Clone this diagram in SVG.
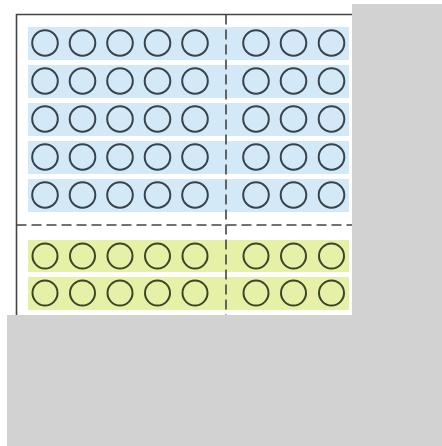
<svg xmlns="http://www.w3.org/2000/svg" width="442" height="446" viewBox="0 0 442 446">
<style>
.bb{fill:#d3e9f7}
.gb{fill:#e6f0a6}
.bc{fill:none;stroke:#38434b;stroke-width:2}
.gc{fill:none;stroke:#3b4629;stroke-width:2}
.frame{stroke:#444;stroke-width:1.6;fill:none}
.dash{stroke:#444;stroke-width:1.6;fill:none;stroke-dasharray:10 5}
</style>
<rect width="442" height="446" fill="#fff"/>
<rect x="352" y="4" width="90" height="442" fill="#d2d2d2"/>
<rect x="7" y="315" width="435" height="131" fill="#d2d2d2"/>
<g id="blue-rows">
<rect class="bb" x="28" y="27" width="321" height="33"/>
<rect class="bb" x="28" y="65" width="321" height="33"/>
<rect class="bb" x="28" y="103" width="321" height="33"/>
<rect class="bb" x="28" y="141" width="321" height="33"/>
<rect class="bb" x="28" y="179" width="321" height="33"/>
</g>
<g id="green-rows">
<rect class="gb" x="28" y="240" width="321" height="32"/>
<rect class="gb" x="28" y="277" width="321" height="33"/>
</g>
<g id="lines">
<path class="frame" d="M16.5 315V14.5H352"/>
<path class="dash" d="M226 14.5V315"/>
<path class="dash" d="M16.5 225H352"/>
</g>
<g id="blue-circles" class="bc">
<g id="b-r1"><circle cx="45" cy="43" r="12.8"/><circle cx="82.5" cy="43" r="12.8"/><circle cx="120" cy="43" r="12.8"/><circle cx="157.5" cy="43" r="12.8"/><circle cx="195" cy="43" r="12.8"/><circle cx="256" cy="43" r="12.8"/><circle cx="293.5" cy="43" r="12.8"/><circle cx="331.5" cy="43" r="12.8"/></g>
<g id="b-r2"><circle cx="45" cy="81" r="12.8"/><circle cx="82.5" cy="81" r="12.8"/><circle cx="120" cy="81" r="12.8"/><circle cx="157.5" cy="81" r="12.8"/><circle cx="195" cy="81" r="12.8"/><circle cx="256" cy="81" r="12.8"/><circle cx="293.5" cy="81" r="12.8"/><circle cx="331.5" cy="81" r="12.8"/></g>
<g id="b-r3"><circle cx="45" cy="119" r="12.8"/><circle cx="82.5" cy="119" r="12.8"/><circle cx="120" cy="119" r="12.8"/><circle cx="157.5" cy="119" r="12.8"/><circle cx="195" cy="119" r="12.8"/><circle cx="256" cy="119" r="12.8"/><circle cx="293.5" cy="119" r="12.8"/><circle cx="331.5" cy="119" r="12.8"/></g>
<g id="b-r4"><circle cx="45" cy="157" r="12.8"/><circle cx="82.5" cy="157" r="12.8"/><circle cx="120" cy="157" r="12.8"/><circle cx="157.5" cy="157" r="12.8"/><circle cx="195" cy="157" r="12.8"/><circle cx="256" cy="157" r="12.8"/><circle cx="293.5" cy="157" r="12.8"/><circle cx="331.5" cy="157" r="12.8"/></g>
<g id="b-r5"><circle cx="45" cy="195" r="12.8"/><circle cx="82.5" cy="195" r="12.8"/><circle cx="120" cy="195" r="12.8"/><circle cx="157.5" cy="195" r="12.8"/><circle cx="195" cy="195" r="12.8"/><circle cx="256" cy="195" r="12.8"/><circle cx="293.5" cy="195" r="12.8"/><circle cx="331.5" cy="195" r="12.8"/></g>
</g>
<g id="green-circles" class="gc">
<g id="g-r1"><circle cx="45" cy="256" r="12.5"/><circle cx="82.5" cy="256" r="12.5"/><circle cx="120" cy="256" r="12.5"/><circle cx="157.5" cy="256" r="12.5"/><circle cx="195" cy="256" r="12.5"/><circle cx="256" cy="256" r="12.5"/><circle cx="293.5" cy="256" r="12.5"/><circle cx="331.5" cy="256" r="12.5"/></g>
<g id="g-r2"><circle cx="45" cy="293" r="12.5"/><circle cx="82.5" cy="293" r="12.5"/><circle cx="120" cy="293" r="12.5"/><circle cx="157.5" cy="293" r="12.5"/><circle cx="195" cy="293" r="12.5"/><circle cx="256" cy="293" r="12.5"/><circle cx="293.5" cy="293" r="12.5"/><circle cx="331.5" cy="293" r="12.5"/></g>
</g>
</svg>
